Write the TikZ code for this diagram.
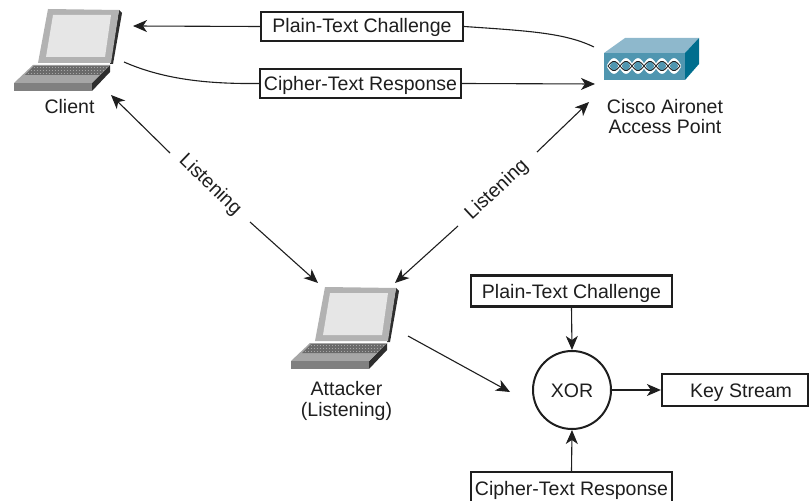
\documentclass[tikz,border=0pt]{standalone}
\usepackage{fontspec}
\setmainfont{Liberation Sans}
\usetikzlibrary{arrows.meta}
\definecolor{ink}{HTML}{1E1E1E}
\definecolor{lidgrey}{HTML}{B2B2B2}
\definecolor{screengrey}{HTML}{E6E6E6}
\definecolor{edgegrey}{HTML}{2E2E2E}
\definecolor{deckgrey}{HTML}{A6A6A6}
\definecolor{frontgrey}{HTML}{808080}
\definecolor{keygrey}{HTML}{6A6A6A}
\definecolor{apfront}{HTML}{5096B0}
\definecolor{aptop}{HTML}{8EB8CC}
\definecolor{apside}{HTML}{006E8E}
\tikzset{
  txt/.style={font=\fontsize{19.6}{21}\selectfont,text=ink,align=center,inner sep=0pt},
  boxnode/.style={txt,draw=ink,line width=2.2bp,fill=white,minimum height=29bp},
  link/.style={draw=ink,line width=1.1bp},
  arrow/.style={link,-{Stealth[length=14bp,width=12bp,inset=4bp]}}
}
\newcommand{\laptopicon}[2]{%
  \begin{scope}[shift={(#1,#2)}]
    \fill[edgegrey] (119,10) -- (122,13) -- (113,64) -- (110,64) -- cycle;
    \fill[lidgrey] (48,9) -- (119,10) -- (111,63) -- (38,63) -- cycle;
    \fill[screengrey] (53,15) -- (111,15) -- (105,57) -- (46,57) -- cycle;
    \fill[edgegrey] (110,65) -- (110,72) -- (92,91) -- (92,83) -- cycle;
    \fill[deckgrey] (33,65) -- (110,65) -- (92,83) -- (14,83) -- cycle;
    \fill[frontgrey] (14,83) -- (92,83) -- (92,91) -- (14,91) -- cycle;
    \fill[keygrey] (34,66) -- (109,66) -- (100,75) -- (25,75) -- cycle;
    \foreach \k in {0,3,6}
      \draw[deckgrey,line width=.7bp,dash pattern=on 1.5bp off 1.5bp]
        (33.5-\k,67+\k) -- (108-\k,67+\k);
  \end{scope}}
\begin{document}
\begin{tikzpicture}[x=1bp,y=-1bp]
\useasboundingbox (0,0) rectangle (809,501);
\laptopicon{0}{0}
\laptopicon{277}{278}
% access point
\fill[aptop] (604,53) -- (625,38) -- (699,38) -- (685,53) -- cycle;
\fill[apside] (685,53) -- (699,38) -- (699,64) -- (685,80) -- cycle;
\fill[apfront] (604,53) rectangle (685,80);
\foreach \s in {1,-1}
  \draw[white,line width=2.6bp,smooth,samples=73,domain=608:680,line join=round]
    plot (\x,{66+\s*6.5*sin(15*(\x-608))});
\foreach \s in {1,-1}
  \draw[ink,line width=.8bp,smooth,samples=73,domain=608:680,line join=round]
    plot (\x,{66+\s*4.6*sin(15*(\x-608))});
% labels
\node[txt] (client) at (69.5,106.5) {Client};
\node[txt] (ap) at (665,116.5) {Cisco Aironet\\Access Point};
\node[txt] (attacker) at (346.5,400.5) {Attacker\\(Listening)};
\node[boxnode,minimum width=202bp,text height=14.2bp,text depth=2bp] (pt1) at (362,26.5) {Plain-Text Challenge};
\node[boxnode,minimum width=201bp,text height=14.2bp,text depth=0bp] (ct1) at (360.5,83.5) {Cipher-Text Response};
\node[boxnode,minimum width=201bp,minimum height=31bp,text height=14.2bp,text depth=0bp] (pt2) at (571.5,291) {Plain-Text Challenge};
\node[boxnode,minimum width=201bp,minimum height=34bp] (ct2) at (571.5,489) {};
\node[txt] (ct2t) at (571.5,490.5) {Cipher-Text Response};
\node[boxnode,minimum width=146bp,minimum height=32bp] (ks) at (735,390) {};
\node[txt] (kst) at (741,393) {Key Stream};
\node[txt,draw=ink,line width=2bp,circle,minimum size=78bp] (xor) at (572,390) {};
\node[txt] (xort) at (572,391) {XOR};
\node[txt,rotate=-44] (l1) at (210,185) {Listening};
\node[txt,rotate=43] (l2) at (497,190) {Listening};
% free ends
\coordinate (c1) at (133,26);
\coordinate (c2) at (124,62);
\coordinate (a1) at (594,47);
\coordinate (a2) at (595,84);
\coordinate (c3) at (111,95);
\coordinate (c4) at (170,153);
\coordinate (t1) at (250,222);
\coordinate (t2) at (318,283);
\coordinate (a3) at (589,102);
\coordinate (a4) at (537,152);
\coordinate (t3) at (458,226);
\coordinate (t4) at (395,283);
\coordinate (t5) at (408,336);
\coordinate (x1) at (510,392);
% connectors
\draw[arrow] (pt1.west) -- (c1);
\draw[link] (pt1.east) .. controls (530,31) and (565,33) .. (a1);
\draw[link] (c2) .. controls (165,80) and (210,84) .. (ct1.west);
\draw[arrow] (ct1.east) -- (a2);
\draw[arrow] (c4) -- (c3);
\draw[arrow] (t1) -- (t2);
\draw[arrow] (a4) -- (a3);
\draw[arrow] (t3) -- (t4);
\draw[arrow] (t5) -- (x1);
\draw[arrow] (pt2.south) -- (xor.north);
\draw[arrow] (ct2.north) -- (xor.south);
\draw[arrow] (xor.east) -- (ks.west);
\end{tikzpicture}
\end{document}
